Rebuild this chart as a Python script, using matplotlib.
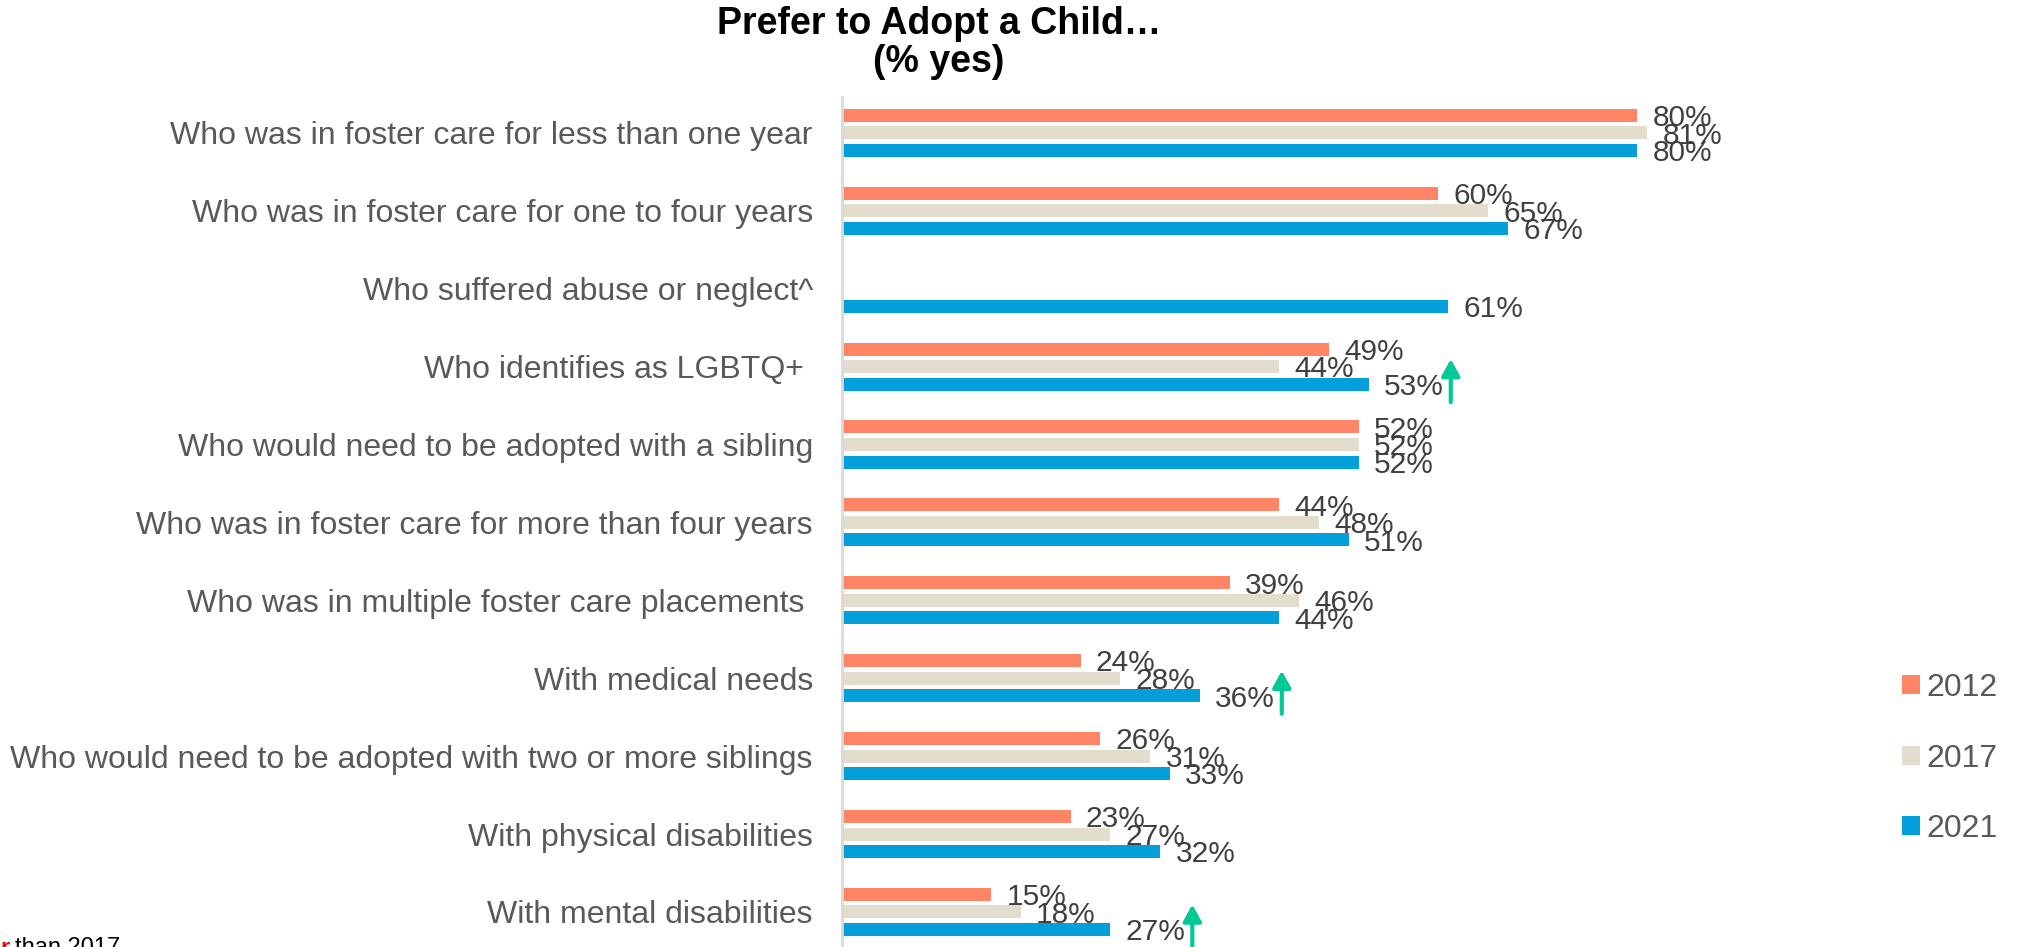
import numpy as np
import matplotlib
matplotlib.use("Agg")
import matplotlib.pyplot as plt
from matplotlib.transforms import offset_copy

plt.rcParams["font.family"] = ["Liberation Sans", "DejaVu Sans"]

categories = [
    "Who was in foster care for less than one year",
    "Who was in foster care for one to four years",
    "Who suffered abuse or neglect^",
    "Who identifies as LGBTQ+ ",
    "Who would need to be adopted with a sibling",
    "Who was in foster care for more than four years",
    "Who was in multiple foster care placements ",
    "With medical needs",
    "Who would need to be adopted with two or more siblings",
    "With physical disabilities",
    "With mental disabilities",
]
years = ["2012", "2017", "2021"]
vals_2012 = [80, 60, np.nan, 49, 52, 44, 39, 24, 26, 23, 15]
vals_2017 = [81, 65, np.nan, 44, 52, 48, 46, 28, 31, 27, 18]
vals_2021 = [80, 67, 61, 53, 52, 51, 44, 36, 33, 32, 27]
# rows where 2021 is significantly higher than 2017
higher_rows = [3, 7, 10]

colors = ["#FF8566", "#E3DDCE", "#039FDA"]
offsets = [-0.225, 0.0, 0.225]
bar_h = 0.167

fig = plt.figure(figsize=(20.24, 9.47), dpi=100)
ax = fig.add_axes([842 / 2024, 0.0, 1000 / 2024, 1 - 97 / 947])

y = np.arange(len(categories))
series = [vals_2012, vals_2017, vals_2021]
for vals, col, off, yr in zip(series, colors, offsets, years):
    v = np.array(vals, dtype=float)
    ax.barh(y + off, v, height=bar_h, color=col, label=yr)
    for yi, val in zip(y, v):
        if np.isnan(val):
            continue
        ax.annotate(f"{val:.0f}%", xy=(val, yi + off), xytext=(11, -2),
                    textcoords="offset points", va="center", ha="left",
                    fontsize=21.5, color="#404040")

# green up arrows after the 2021 labels
for r in higher_rows:
    v = vals_2021[r]
    yc = r + offsets[2]
    tip = offset_copy(ax.transData, fig=fig, x=59, y=18, units="points")
    tail = offset_copy(ax.transData, fig=fig, x=59, y=-13, units="points")
    ax.annotate("", xy=(v, yc), xycoords=tip, xytext=(v, yc), textcoords=tail,
                arrowprops=dict(arrowstyle="-|>,head_width=0.55,head_length=1.0",
                                color="#00C995", lw=3, shrinkA=0, shrinkB=0))

ax.set_xlim(0, 100.6)
ax.set_ylim(10.45, -0.46)
ax.set_yticks(y)
ax.set_yticklabels(categories, fontsize=23, color="#595959")
ax.tick_params(axis="y", length=0, pad=21)
ax.set_xticks([])
for s in ["top", "right", "bottom"]:
    ax.spines[s].set_visible(False)
ax.spines["left"].set_color("#D9D9D9")
ax.spines["left"].set_linewidth(2)

fig.text(939 / 2024, 1 - 43 / 947, "Prefer to Adopt a Child…\n(% yes)",
         ha="center", va="center", fontsize=27, fontweight="bold",
         color="black", linespacing=1.05)

fig.legend(loc="upper left", bbox_to_anchor=(1902 / 2024, 1 - 673 / 947),
           frameon=False, fontsize=23, labelcolor="#595959",
           handlelength=0.55, handleheight=0.55, handletextpad=0.2,
           labelspacing=1.27, borderpad=0, borderaxespad=0)

fig.text(0, 1 - 937 / 947, "r", color="red", fontweight="bold",
         fontsize=17, va="top", ha="left")
fig.text(15 / 2024, 1 - 937 / 947, "than 2017", color="black",
         fontsize=17, va="top", ha="left")

fig.savefig("out.png", dpi=100)
